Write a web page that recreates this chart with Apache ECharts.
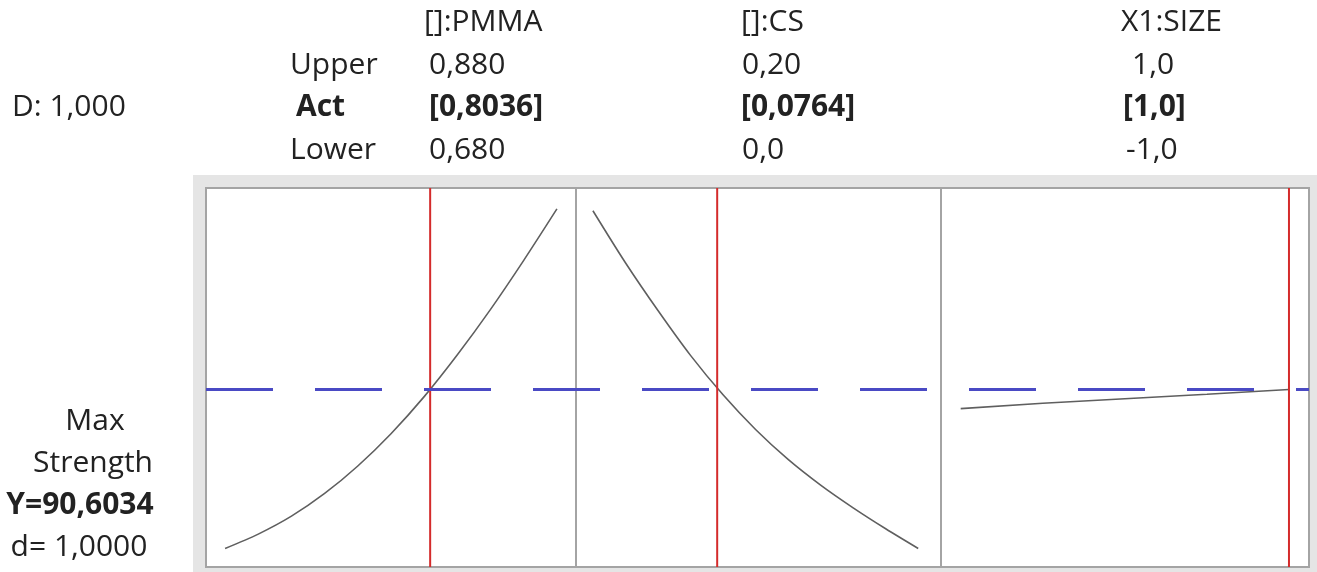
<!DOCTYPE html>
<html>
<head>
<meta charset="utf-8">
<script src="https://cdn.jsdelivr.net/npm/echarts@6/dist/echarts.min.js"></script>
<style>
  html, body { margin: 0; padding: 0; background: #fff; }
  #chart { width: 1317px; height: 572px; }
</style>
</head>
<body>
<div id="chart"></div>
<script>
// factor header rows
var factorNames = ["[]:PMMA", "[]:CS", "X1:SIZE"];
var upperVals = ["0,880", "0,20", "1,0"];
var actVals = ["[0,8036]", "[0,0764]", "[1,0]"];
var lowerVals = ["0,680", "0,0", "-1,0"];

// current settings (red lines)
var actX = [0.8036, 0.0764, 1.0];
// predicted response (blue dashed line)
var targetY = 90.6034;

// response curves
var pmmaX = [0.68, 0.70, 0.72, 0.74, 0.76, 0.78, 0.80, 0.82, 0.84, 0.86, 0.88];
var pmmaY = [64.0, 66.4, 69.4, 73.2, 77.8, 83.2, 89.4, 96.4, 104.0, 112.2, 120.8];

var csX = [0, 0.02, 0.04, 0.06, 0.08, 0.10, 0.12, 0.14, 0.16, 0.18, 0.20];
var csY = [120.5, 111.8, 103.8, 96.3, 89.7, 83.9, 78.9, 74.6, 70.8, 67.3, 64.0];

var sizeX = [-1, -0.5, 0, 0.5, 1];
var sizeY = [87.4, 88.3, 89.05, 89.8, 90.6034];

var chart = echarts.init(document.getElementById("chart"));

var FONT = '"Open Sans", sans-serif';
var txtColor = "#222";

function txt(s, x, y, bold, align) {
  return {
    type: "text",
    x: x,
    y: y,
    style: {
      text: s,
      font: (bold ? "bold " : "") + "30px " + FONT,
      fill: txtColor,
      align: align || "left",
      verticalAlign: "middle"
    }
  };
}

var rowY = [22, 65, 107, 150];
var texts = [
  txt("Upper", 290, rowY[1]),
  txt("Act", 296, rowY[2], true),
  txt("Lower", 290, rowY[3]),
  txt("D: 1,000", 12, rowY[2]),
  txt("Max", 95, 421, false, "center"),
  txt("Strength", 93, 463, false, "center"),
  txt("Y=90,6034", 80, 505, true, "center"),
  txt("d= 1,0000", 79, 547, false, "center")
];
var headX = [424, 741, 1121];
var upX = [429, 742, 1132];
var actXpos = [429, 741, 1123];
var lowX = [429, 742, 1126];
for (var i = 0; i < 3; i++) {
  texts.push(txt(factorNames[i], headX[i], rowY[0]));
  texts.push(txt(upperVals[i], upX[i], rowY[1]));
  texts.push(txt(actVals[i], actXpos[i], rowY[2], true));
  texts.push(txt(lowerVals[i], lowX[i], rowY[3]));
}

var yMin = 60.9, yMax = 124.3;
var gridTop = 188, gridH = 379;
var panels = [
  { left: 206, width: 370, min: 0.6685, max: 0.8915, xs: pmmaX, ys: pmmaY, smooth: 0.3 },
  { left: 576, width: 365, min: -0.0104, max: 0.214, xs: csX, ys: csY, smooth: 0.3 },
  { left: 941, width: 368, min: -1.12, max: 1.122, xs: sizeX, ys: sizeY, smooth: false }
];

var grids = [], xAxes = [], yAxes = [], series = [];
panels.forEach(function (p, i) {
  grids.push({
    left: p.left, top: gridTop, width: p.width, height: gridH,
    show: true, backgroundColor: "#fff", borderColor: "#a4a4a4", borderWidth: 2
  });
  xAxes.push({ type: "value", gridIndex: i, min: p.min, max: p.max, show: false });
  yAxes.push({ type: "value", gridIndex: i, min: yMin, max: yMax, show: false });
  series.push({
    type: "line",
    xAxisIndex: i,
    yAxisIndex: i,
    data: p.xs.map(function (x, k) { return [x, p.ys[k]]; }),
    smooth: p.smooth,
    symbol: "none",
    z: 3,
    lineStyle: { color: "#5f5f5f", width: 1.6 }
  });
  // red line at the current setting, top to bottom of the panel
  series.push({
    type: "line",
    xAxisIndex: i,
    yAxisIndex: i,
    data: [[actX[i], yMin], [actX[i], yMax]],
    symbol: "none",
    silent: true,
    z: 4,
    lineStyle: { color: "#d42b2b", width: 2 }
  });
});

// overlay spanning all three panels for the dashed target line
grids.push({ left: 206, top: gridTop, width: 1103, height: gridH, show: false });
xAxes.push({ type: "value", gridIndex: 3, min: 0, max: 1, show: false });
yAxes.push({ type: "value", gridIndex: 3, min: yMin, max: yMax, show: false });
series.push({
  type: "line",
  xAxisIndex: 3,
  yAxisIndex: 3,
  data: [],
  z: 2,
  markLine: {
    silent: true,
    symbol: "none",
    label: { show: false },
    lineStyle: { color: "#4a4ac4", width: 3, type: [67, 42] },
    data: [{ yAxis: targetY }]
  }
});

chart.setOption({
  backgroundColor: "#fff",
  animation: false,
  graphic: [
    {
      type: "rect",
      z: -10,
      shape: { x: 193, y: 175, width: 1124, height: 397 },
      style: { fill: "#e5e5e5" }
    }
  ].concat(texts),
  grid: grids,
  xAxis: xAxes,
  yAxis: yAxes,
  series: series
});
</script>
</body>
</html>
